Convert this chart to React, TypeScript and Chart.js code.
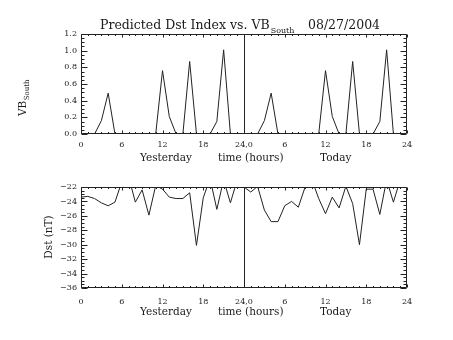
import React, { useEffect, useRef } from "react";
import { Chart, registerables } from "chart.js";

Chart.register(...registerables);

// ---------- data ----------
const HOURS = [
  0, 1, 2, 3, 4, 5, 6, 7, 8, 9, 10, 11, 12, 13, 14, 15, 16, 17, 18, 19, 20, 21, 22, 23,
  24, 25, 26, 27, 28, 29, 30, 31, 32, 33, 34, 35, 36, 37, 38, 39, 40, 41, 42, 43, 44, 45, 46, 47,
];

const VB_SOUTH = [
  0, 0, 0, 0.16, 0.49, 0, 0, 0, 0, 0, 0, 0, 0.76, 0.21, 0, 0, 0.87, 0, 0, 0, 0.15, 1.01, 0, 0,
  0, 0, 0, 0.16, 0.49, 0, 0, 0, 0, 0, 0, 0, 0.76, 0.21, 0, 0, 0.87, 0, 0, 0, 0.15, 1.01, 0, 0,
];

const DST = [
  -23.4, -23.3, -23.6, -24.2, -24.6, -24.1, -21.3, -20.5, -24.1, -22.4, -25.9, -21.8,
  -22.3, -23.4, -23.6, -23.6, -22.8, -30.1, -23.5, -20.8, -25.1, -21.0, -24.2, -21.0,
  -22.0, -22.7, -21.9, -25.2, -26.8, -26.8, -24.6, -24.0, -24.8, -22.0, -21.0, -23.6,
  -25.7, -23.4, -24.9, -21.9, -24.3, -30.0, -22.3, -22.3, -25.8, -21.0, -24.1, -21.0,
];

const X_TICKS = [0, 6, 12, 18, 24, 30, 36, 42, 48];
const X_TICK_LABELS = ["0", "6", "12", "18", "24,0", "6", "12", "18", "24"];
const X_MIN = 0;
const X_MAX = 48;
const DIVIDER_HOUR = 24;

const VB_MIN = 0;
const VB_MAX = 1.2;
const VB_STEP = 0.2;
const VB_MINOR = 0.05;

const DST_MIN = -36;
const DST_MAX = -22;
const DST_STEP = 2;
const DST_MINOR = 0.5;

const TITLE_MAIN = "Predicted Dst Index vs. VB";
const TITLE_SUB = "South";
const TITLE_DATE = "08/27/2004";
const VB_LABEL = "VB";
const VB_LABEL_SUB = "South";
const DST_LABEL = "Dst (nT)";
const X_TITLES = ["Yesterday", "time (hours)", "Today"];

// ---------- styling ----------
const INK = "#222";
const TEXT = "#1a1a1a";
const SERIF = "'DejaVu Serif', serif";

function makeFramePlugin(yMin: number, yMax: number, yMajor: number, yMinor: number) {
  return {
    id: "frame",
    afterDatasetsDraw(chart: any) {
      const { ctx, chartArea: a } = chart;
      const xs = chart.scales.x;
      const ys = chart.scales.y;
      const L = Math.round(a.left) + 0.5;
      const R = Math.round(a.right) - 0.5;
      const T = Math.round(a.top) + 0.5;
      const B = Math.round(a.bottom) - 0.5;
      ctx.save();
      ctx.strokeStyle = INK;
      ctx.lineWidth = 1;
      ctx.beginPath();
      ctx.rect(L, T, R - L, B - T);
      const d = Math.round(xs.getPixelForValue(DIVIDER_HOUR)) + 0.5;
      ctx.moveTo(d, T);
      ctx.lineTo(d, B);
      for (let h = X_MIN; h <= X_MAX; h += 1) {
        const px = Math.round(xs.getPixelForValue(h)) + 0.5;
        const len = h % 6 === 0 ? 3 : 1.5;
        ctx.moveTo(px, B);
        ctx.lineTo(px, B - len);
        ctx.moveTo(px, T);
        ctx.lineTo(px, T + len);
      }
      const n = Math.round((yMax - yMin) / yMinor);
      const per = Math.round(yMajor / yMinor);
      for (let i = 0; i <= n; i++) {
        const py = Math.round(ys.getPixelForValue(yMin + i * yMinor)) + 0.5;
        const len = i % per === 0 ? 6 : 3;
        ctx.moveTo(L, py);
        ctx.lineTo(L + len, py);
        ctx.moveTo(R, py);
        ctx.lineTo(R - len, py);
      }
      ctx.stroke();
      ctx.restore();
    },
  };
}

function drawXTitles(ctx: CanvasRenderingContext2D, baseline: number) {
  ctx.font = `10.5px ${SERIF}`;
  ctx.textAlign = "left";
  ctx.textBaseline = "alphabetic";
  ctx.fillText(X_TITLES[0], 140, baseline);
  ctx.fillText(X_TITLES[1], 218, baseline);
  ctx.fillText(X_TITLES[2], 320, baseline);
}

const topTextPlugin = {
  id: "topText",
  afterDraw(chart: any) {
    const { ctx } = chart;
    ctx.save();
    ctx.fillStyle = TEXT;
    // title
    ctx.font = `12.5px ${SERIF}`;
    ctx.textAlign = "left";
    ctx.textBaseline = "alphabetic";
    ctx.fillText(TITLE_MAIN, 100, 29);
    const w = ctx.measureText(TITLE_MAIN).width;
    ctx.font = `8px ${SERIF}`;
    ctx.fillText(TITLE_SUB, 100 + w + 1, 33);
    ctx.font = `12.5px ${SERIF}`;
    ctx.fillText(TITLE_DATE, 308, 29);
    // y title
    ctx.save();
    ctx.translate(26, 98);
    ctx.rotate(-Math.PI / 2);
    ctx.font = `10.5px ${SERIF}`;
    const w1 = ctx.measureText(VB_LABEL).width;
    ctx.font = `7px ${SERIF}`;
    const w2 = ctx.measureText(VB_LABEL_SUB).width;
    const start = -(w1 + w2) / 2;
    ctx.font = `10.5px ${SERIF}`;
    ctx.fillText(VB_LABEL, start, 0);
    ctx.font = `7px ${SERIF}`;
    ctx.fillText(VB_LABEL_SUB, start + w1 + 0.5, 3);
    ctx.restore();
    drawXTitles(ctx, 161);
    ctx.restore();
  },
};

const bottomTextPlugin = {
  id: "bottomText",
  afterDraw(chart: any) {
    const { ctx } = chart;
    ctx.save();
    ctx.fillStyle = TEXT;
    ctx.save();
    ctx.translate(52, 67);
    ctx.rotate(-Math.PI / 2);
    ctx.font = `10.5px ${SERIF}`;
    ctx.textAlign = "center";
    ctx.textBaseline = "alphabetic";
    ctx.fillText(DST_LABEL, 0, 0);
    ctx.restore();
    drawXTitles(ctx, 145);
    ctx.restore();
  },
};

function makeConfig(
  values: number[],
  yMin: number,
  yMax: number,
  yStep: number,
  yMinor: number,
  yFmt: (v: number) => string,
  padTop: number,
  xHeight: number,
  xPad: number,
  textPlugin: any
): any {
  return {
    type: "line",
    data: {
      datasets: [
        {
          data: HOURS.map((h, i) => ({ x: h, y: values[i] })),
          borderColor: INK,
          borderWidth: 1,
          pointRadius: 0,
          tension: 0,
          fill: false,
        },
      ],
    },
    options: {
      animation: false,
      responsive: false,
      maintainAspectRatio: false,
      events: [],
      layout: { padding: { left: 0, right: 46, top: padTop, bottom: 0 } },
      plugins: { legend: { display: false }, tooltip: { enabled: false }, title: { display: false } },
      scales: {
        x: {
          type: "linear",
          min: X_MIN,
          max: X_MAX,
          afterBuildTicks: (s: any) => {
            s.ticks = X_TICKS.map((v) => ({ value: v }));
          },
          afterFit: (s: any) => {
            s.height = xHeight;
          },
          grid: { display: false, drawTicks: false },
          border: { display: false },
          ticks: {
            autoSkip: false,
            maxRotation: 0,
            padding: xPad,
            color: TEXT,
            font: { family: SERIF, size: 8 },
            callback: (v: number) => {
              const i = X_TICKS.indexOf(v);
              return i >= 0 ? X_TICK_LABELS[i] : "";
            },
          },
        },
        y: {
          type: "linear",
          min: yMin,
          max: yMax,
          afterFit: (s: any) => {
            s.width = 81;
          },
          grid: { display: false, drawTicks: false },
          border: { display: false },
          ticks: {
            stepSize: yStep,
            padding: 4,
            color: TEXT,
            font: { family: SERIF, size: 8 },
            callback: (v: number) => yFmt(v),
          },
        },
      },
    },
    plugins: [makeFramePlugin(yMin, yMax, yStep, yMinor), textPlugin],
  };
}

export default function App() {
  const topRef = useRef<HTMLCanvasElement>(null);
  const botRef = useRef<HTMLCanvasElement>(null);

  useEffect(() => {
    const c1 = new Chart(
      topRef.current as HTMLCanvasElement,
      makeConfig(VB_SOUTH, VB_MIN, VB_MAX, VB_STEP, VB_MINOR, (v) => v.toFixed(1), 34, 36, 6, topTextPlugin)
    );
    const c2 = new Chart(
      botRef.current as HTMLCanvasElement,
      makeConfig(
        DST,
        DST_MIN,
        DST_MAX,
        DST_STEP,
        DST_MINOR,
        (v) => String(Math.round(v)).replace("-", "\u2212"),
        17,
        52,
        9,
        bottomTextPlugin
      )
    );
    return () => {
      c1.destroy();
      c2.destroy();
    };
  }, []);

  return (
    <div style={{ position: "absolute", left: 0, top: 0, width: 453, height: 340, background: "#fff" }}>
      <canvas ref={topRef} width={453} height={170} style={{ position: "absolute", left: 0, top: 0, width: 453, height: 170 }} />
      <canvas ref={botRef} width={453} height={170} style={{ position: "absolute", left: 0, top: 170, width: 453, height: 170 }} />
    </div>
  );
}
